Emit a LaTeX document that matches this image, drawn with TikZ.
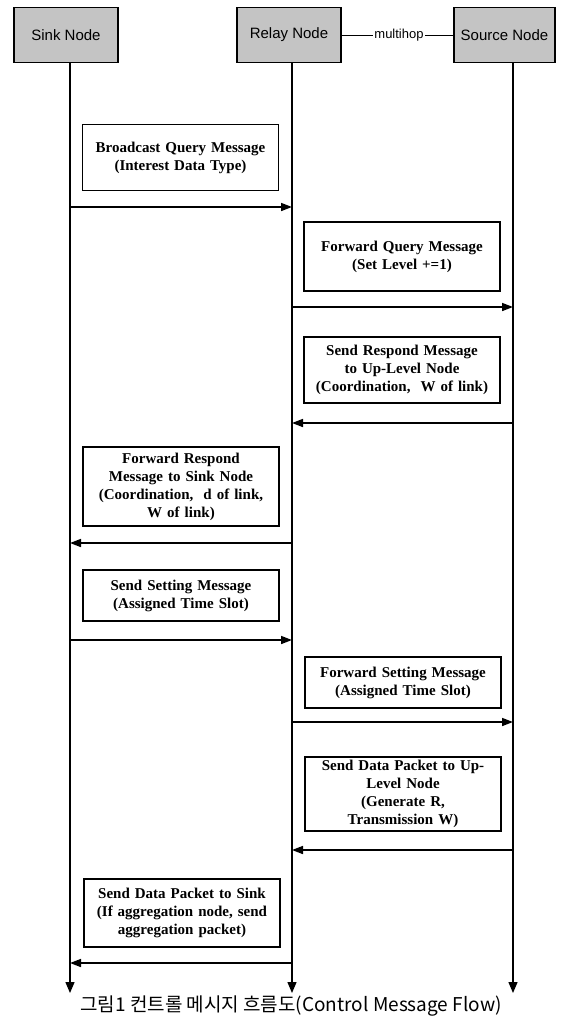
\documentclass[tikz,border=0pt]{standalone}
\usepackage{fontspec}
\setmainfont{Liberation Serif}
\newfontfamily\hdrfont{Liberation Sans}
\newfontfamily\krfont{Noto Sans CJK KR}
\usetikzlibrary{arrows.meta}
\definecolor{hdrgray}{HTML}{C4C4C4}
\tikzset{
  hdr/.style={draw=black, line width=1.8pt, fill=hdrgray, minimum width=104pt, minimum height=55pt, inner sep=0pt, font=\hdrfont\fontsize{15}{17}\selectfont},
  msgbox/.style={draw=black, line width=1.4pt, fill=white, minimum width=196pt, text width=190pt, align=center, inner sep=0pt, font=\bfseries\fontsize{15}{18}\selectfont},
  life/.style={line width=1.3pt, -{Triangle[length=11pt,width=9pt]}},
  msg/.style={line width=1.6pt, -{Triangle[length=11pt,width=8pt]}},
  hop/.style={line width=1pt},
}
\begin{document}
\begin{tikzpicture}[x=1pt,y=-1pt]
\useasboundingbox (0,0) rectangle (573,1020);
% headers
\node[hdr] (sink) at (66,35) {Sink Node};
\node[hdr] (relay) at (289,35) {Relay Node};
\node[hdr, minimum width=101pt] (source) at (504.5,35) {Source Node};
\node[font=\hdrfont\fontsize{13}{15}\selectfont, inner sep=1pt, fill=white] (mh) at (399,35) {multihop};
\draw[hop] (relay.east) -- (mh.west);
\draw[hop] (mh.east) -- (source.east -| source.west);
% lifeline ends
\coordinate (sinkend) at (70,993);
\coordinate (relayend) at (292,993);
\coordinate (sourceend) at (513,993);
\draw[life] (sink.south -| sinkend) -- (sinkend);
\draw[life] (relay.south -| relayend) -- (relayend);
\draw[life] (source.south -| sourceend) -- (sourceend);
% message boxes
\node[msgbox, minimum height=66pt] (b1) at (180.5,157.5) {Broadcast Query Message\\(Interest Data Type)};
\node[msgbox, minimum height=69pt] (b2) at (402,256.5) {Forward Query Message\\(Set Level +=1)};
\node[msgbox, minimum height=66pt] (b3) at (402,370) {Send Respond Message\\to Up-Level Node\\(Coordination,\ \ W of link)};
\node[msgbox, minimum height=79pt] (b4) at (181,486.5) {Forward Respond\\Message to Sink Node\\(Coordination,\ \ d of link,\\W of link)};
\node[msgbox, minimum height=51pt] (b5) at (181,595.5) {Send Setting Message\\(Assigned Time Slot)};
\node[msgbox, minimum height=51pt] (b6) at (403,682.5) {Forward Setting Message\\(Assigned Time Slot)};
\node[msgbox, minimum height=74pt] (b7) at (403,794) {Send Data Packet to Up-\\Level Node\\(Generate R,\\Transmission W)};
\node[msgbox, minimum height=68pt] (b8) at (182,913) {Send Data Packet to Sink\\(If aggregation node, send\\aggregation packet)};
% message arrows endpoints
\foreach \n/\y in {1/207,2/307,3/423,4/543,5/640,6/722,7/850,8/963}{
  \coordinate (s\n) at (70,\y);
  \coordinate (r\n) at (292,\y);
  \coordinate (o\n) at (513,\y);
}
\draw[msg] (s1) -- (r1);
\draw[msg] (r2) -- (o2);
\draw[msg] (o3) -- (r3);
\draw[msg] (r4) -- (s4);
\draw[msg] (s5) -- (r5);
\draw[msg] (r6) -- (o6);
\draw[msg] (o7) -- (r7);
\draw[msg] (r8) -- (s8);
% caption
\node[font=\krfont\fontsize{19}{21}\selectfont, inner sep=0pt] (cap) at (291,1006) {그림1 컨트롤 메시지 흐름도(Control Message Flow)};
\end{tikzpicture}
\end{document}
